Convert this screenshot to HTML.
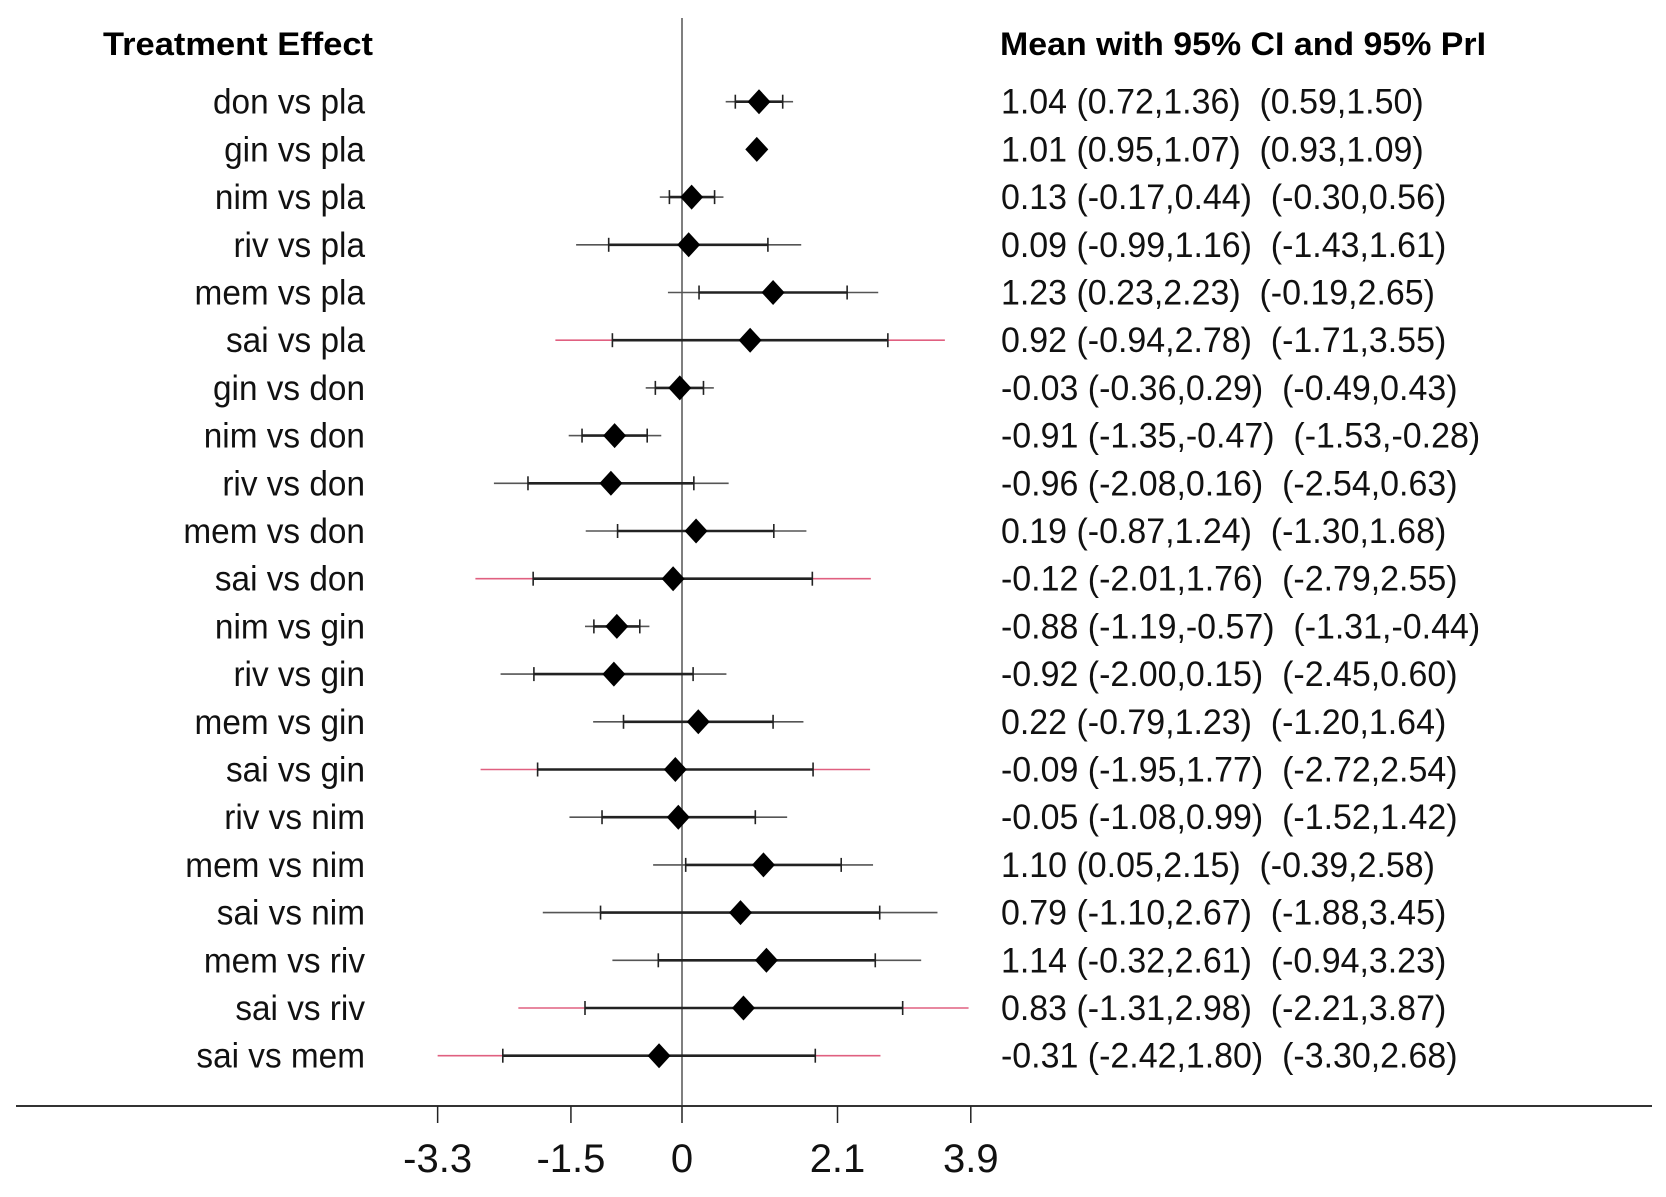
<!DOCTYPE html>
<html><head><meta charset="utf-8"><style>
html,body{margin:0;padding:0;background:#fff;width:1666px;height:1197px;overflow:hidden}
svg text{font-family:"Liberation Sans",sans-serif;white-space:pre}
</style></head><body>
<svg id="chart" width="1666" height="1197" viewBox="0 0 1666 1197" xmlns="http://www.w3.org/2000/svg">
<text x="103" y="55" font-size="32" font-weight="bold" textLength="270" lengthAdjust="spacingAndGlyphs">Treatment Effect</text>
<text x="1000" y="55" font-size="32" font-weight="bold" textLength="486" lengthAdjust="spacingAndGlyphs">Mean with 95% CI and 95% PrI</text>
<g id="marks"></g>
</svg>
<script>
const labels=["don vs pla","gin vs pla","nim vs pla","riv vs pla","mem vs pla","sai vs pla","gin vs don","nim vs don","riv vs don","mem vs don","sai vs don","nim vs gin","riv vs gin","mem vs gin","sai vs gin","riv vs nim","mem vs nim","sai vs nim","mem vs riv","sai vs riv","sai vs mem"];
const means=[1.04,1.01,0.13,0.09,1.23,0.92,-0.03,-0.91,-0.96,0.19,-0.12,-0.88,-0.92,0.22,-0.09,-0.05,1.10,0.79,1.14,0.83,-0.31];
const ciLow=[0.72,0.95,-0.17,-0.99,0.23,-0.94,-0.36,-1.35,-2.08,-0.87,-2.01,-1.19,-2.00,-0.79,-1.95,-1.08,0.05,-1.10,-0.32,-1.31,-2.42];
const ciHigh=[1.36,1.07,0.44,1.16,2.23,2.78,0.29,-0.47,0.16,1.24,1.76,-0.57,0.15,1.23,1.77,0.99,2.15,2.67,2.61,2.98,1.80];
const priLow=[0.59,0.93,-0.30,-1.43,-0.19,-1.71,-0.49,-1.53,-2.54,-1.30,-2.79,-1.31,-2.45,-1.20,-2.72,-1.52,-0.39,-1.88,-0.94,-2.21,-3.30];
const priHigh=[1.50,1.09,0.56,1.61,2.65,3.55,0.43,-0.28,0.63,1.68,2.55,-0.44,0.60,1.64,2.54,1.42,2.58,3.45,3.23,3.87,2.68];
const redFlags=[0,0,0,0,0,1,0,0,0,0,1,0,0,0,1,0,0,0,0,1,1];
const tickVals=[-3.3,-1.5,0,2.1,3.9];
const tickLabels=["-3.3","-1.5","0","2.1","3.9"];

const NS="http://www.w3.org/2000/svg";
const g=document.getElementById('marks');
const xs=v=>682+74.05*v;
const ys=i=>101.7+i*47.7;
const f=v=>v.toFixed(2);
function mk(t,a){const e=document.createElementNS(NS,t);for(const k in a)e.setAttribute(k,a[k]);g.appendChild(e);return e;}

let e=mk('line',{x1:682,y1:18,x2:682,y2:1106,stroke:'#555','stroke-width':1.5});


e=mk('line',{x1:16,y1:1106,x2:1652,y2:1106,stroke:'#333','stroke-width':2});


tickVals.forEach((v,k)=>{
  let t=mk('line',{x1:xs(v),y1:1106,x2:xs(v),y2:1123,stroke:'#222','stroke-width':1.5});
  
  
  let l=mk('text',{x:xs(v),y:1172,'font-size':40,'text-anchor':'middle',fill:'#111'});
  l.textContent=tickLabels[k];
  
  
});
labels.forEach((lab,i)=>{
  const y=ys(i);
  let t=mk('text',{x:365,y:y+12,'font-size':35,'text-anchor':'end',fill:'#111',transform:`translate(365,0) scale(0.953,1) translate(-365,0)`});
  t.textContent=lab;
  
  
  const pc=redFlags[i]?'#e06080':'#555';
  let p1=mk('line',{x1:xs(priLow[i]),y1:y,x2:xs(ciLow[i]),y2:y,stroke:pc,'stroke-width':1.6});
  
  
  let p2=mk('line',{x1:xs(ciHigh[i]),y1:y,x2:xs(priHigh[i]),y2:y,stroke:pc,'stroke-width':1.6});
  
  
  let c=mk('line',{x1:xs(ciLow[i]),y1:y,x2:xs(ciHigh[i]),y2:y,stroke:'#222','stroke-width':2.6});
  
  
  [ciLow[i],ciHigh[i]].forEach(v=>{
    let tk=mk('line',{x1:xs(v),y1:y-7,x2:xs(v),y2:y+7,stroke:'#222','stroke-width':1.6});
    
    
  });
  const mx=xs(means[i]);
  let d=mk('polygon',{points:`${mx-11.5},${y} ${mx},${y-12.5} ${mx+11.5},${y} ${mx},${y+12.5}`,fill:'#000'});
  
  
  let v=mk('text',{x:1001,y:y+12,'font-size':35,fill:'#111',transform:`translate(1001,0) scale(0.97,1) translate(-1001,0)`});
  v.textContent=`${f(means[i])} (${f(ciLow[i])},${f(ciHigh[i])})  (${f(priLow[i])},${f(priHigh[i])})`;
  
  
});
</script>
</body></html>
